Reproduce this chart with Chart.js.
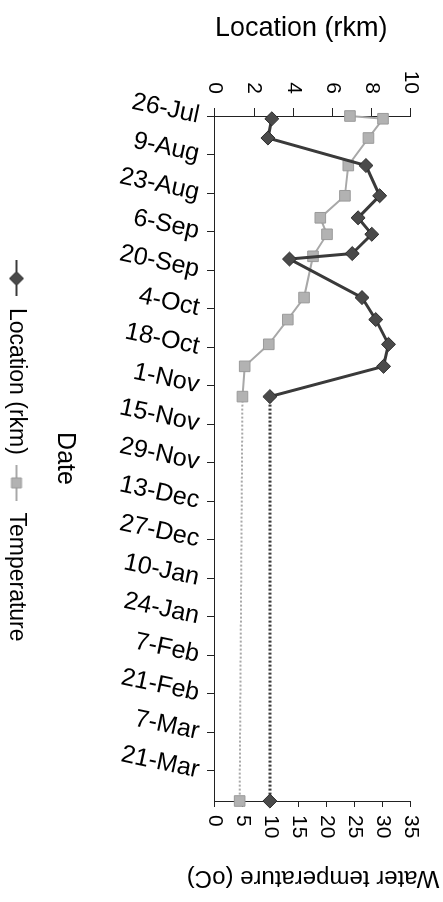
<!DOCTYPE html>
<html>
<head>
<meta charset="utf-8">
<script src="https://cdn.jsdelivr.net/npm/chart.js@4.4.0/dist/chart.umd.min.js"></script>
<style>
  html, body { margin: 0; padding: 0; background: #fff; overflow: hidden; width: 443px; height: 902px; }
  /* the chart is drawn the usual way up, then turned a quarter clockwise */
  #wrap { position: absolute; left: 0; top: 0; width: 902px; height: 448px;
          transform-origin: 0 0; transform: translate(443px, 0) rotate(90deg); }
</style>
</head>
<body>
<div id="wrap"><canvas id="chart" width="902" height="448"></canvas></div>
<script>
// axis labels every 14 days from 26-Jul
const dateTicks = ['26-Jul', '9-Aug', '23-Aug', '6-Sep', '20-Sep', '4-Oct', '18-Oct', '1-Nov', '15-Nov',
  '29-Nov', '13-Dec', '27-Dec', '10-Jan', '24-Jan', '7-Feb', '21-Feb', '7-Mar', '21-Mar'];

const locationDates = ['2001-07-27', '2001-08-03', '2001-08-13', '2001-08-24', '2001-09-01', '2001-09-07',
  '2001-09-14', '2001-09-16', '2001-09-30', '2001-10-08', '2001-10-17', '2001-10-25', '2001-11-05', '2002-04-01'];
const locationRkm = [2.9, 2.7, 7.7, 8.4, 7.3, 8.0, 7.0, 3.8, 7.5, 8.2, 8.85, 8.6, 2.8, 2.8];

const tempDates = ['2001-07-26', '2001-07-27', '2001-08-03', '2001-08-13', '2001-08-24', '2001-09-01', '2001-09-07',
  '2001-09-15', '2001-09-30', '2001-10-08', '2001-10-17', '2001-10-25', '2001-11-05', '2002-04-01'];
const tempC = [24.1, 30.0, 27.4, 23.8, 23.2, 18.8, 20.0, 17.5, 15.9, 13.0, 9.6, 5.3, 4.9, 4.4];

const start = Date.UTC(2001, 6, 26);
const dayOf = s => Math.round((Date.parse(s + 'T00:00:00Z') - start) / 86400000);
const FONT = 'Liberation Sans, Arial, sans-serif';

// dotted where the record has a long gap
const gapDash = ctx => (ctx.p1.parsed.x - ctx.p0.parsed.x > 60 ? [2, 2] : undefined);

function legendIcon(fill, stroke, lineColor, diamond) {
  const c = document.createElement('canvas');
  c.width = 36; c.height = 18;
  const g = c.getContext('2d');
  g.strokeStyle = lineColor; g.lineWidth = 2;
  g.beginPath(); g.moveTo(0, 9); g.lineTo(36, 9); g.stroke();
  g.fillStyle = fill; g.strokeStyle = stroke; g.lineWidth = 1;
  g.beginPath();
  if (diamond) {
    g.moveTo(18, 2); g.lineTo(25, 9); g.lineTo(18, 16); g.lineTo(11, 9); g.closePath();
  } else {
    g.rect(13, 4, 10, 10);
  }
  g.fill(); g.stroke();
  return c;
}
const icons = [legendIcon('#4a4a4a', '#2a2a2a', '#3a3a3a', true), legendIcon('#b2b2b2', '#9a9a9a', '#a8a8a8', false)];

new Chart(document.getElementById('chart'), {
  type: 'line',
  data: {
    datasets: [
      {
        label: 'Location (rkm)',
        data: locationDates.map((d, i) => ({ x: dayOf(d), y: locationRkm[i] })),
        yAxisID: 'y',
        borderColor: '#3a3a3a',
        borderWidth: 3,
        pointStyle: 'rectRot',
        pointRadius: 7,
        pointBackgroundColor: '#4a4a4a',
        pointBorderColor: '#2a2a2a',
        pointBorderWidth: 1,
        clip: false,
        segment: { borderDash: gapDash }
      },
      {
        label: 'Temperature',
        data: tempDates.map((d, i) => ({ x: dayOf(d), y: tempC[i] })),
        yAxisID: 'y1',
        borderColor: '#a8a8a8',
        borderWidth: 2,
        pointStyle: 'rect',
        pointRadius: 7.5,
        pointBackgroundColor: '#b2b2b2',
        pointBorderColor: '#9a9a9a',
        pointBorderWidth: 1,
        clip: false,
        segment: { borderDash: gapDash }
      }
    ]
  },
  options: {
    responsive: false,
    animation: false,
    layout: { padding: { top: 32, left: 0, right: 0, bottom: 0 } },
    plugins: {
      tooltip: { enabled: false },
      legend: {
        position: 'bottom',
        labels: {
          usePointStyle: true,
          pointStyleWidth: 36,
          padding: 10,
          color: '#000',
          font: { family: FONT, size: 23 },
          generateLabels: chart => Chart.defaults.plugins.legend.labels.generateLabels(chart)
            .map((item, i) => Object.assign(item, { pointStyle: icons[i] }))
        }
      }
    },
    scales: {
      x: {
        type: 'linear',
        min: 0,
        max: 249,
        afterBuildTicks: s => { s.ticks = s.ticks.filter(t => t.value % 14 === 0); },
        afterFit: s => { s.height = 177; },
        ticks: {
          stepSize: 14,
          autoSkip: false,
          minRotation: 78,
          maxRotation: 78,
          padding: 5,
          color: '#000',
          font: { family: FONT, size: 25 },
          callback: v => dateTicks[Math.round(v / 14)]
        },
        grid: { drawOnChartArea: false, tickLength: 8, color: '#222' },
        border: { color: '#222', width: 1 },
        title: { display: true, text: 'Date', color: '#000', font: { family: FONT, size: 25 }, padding: { top: 0, bottom: 12 } }
      },
      y: {
        position: 'left',
        min: 0,
        max: 10,
        afterFit: s => { s.width = 116; },
        ticks: { stepSize: 2, autoSkip: false, padding: 14, color: '#000', font: { family: FONT, size: 21 } },
        grid: { drawOnChartArea: false, tickLength: 8, color: '#222' },
        border: { color: '#222', width: 1 },
        title: { display: true, text: 'Location (rkm)', align: 'start', color: '#000', font: { family: FONT, size: 27 }, padding: { top: 12, bottom: 0 } }
      },
      y1: {
        position: 'right',
        min: 0,
        max: 35,
        afterFit: s => { s.width = 101; },
        ticks: { stepSize: 5, autoSkip: false, padding: 8, color: '#000', font: { family: FONT, size: 21 } },
        grid: { drawOnChartArea: false, tickLength: 6, color: '#222' },
        border: { color: '#222', width: 1 },
        title: { display: true, text: 'Water temperature (oC)', color: '#000', font: { family: FONT, size: 24 }, padding: { top: 10, bottom: 0 } }
      }
    }
  }
});
</script>
</body>
</html>
